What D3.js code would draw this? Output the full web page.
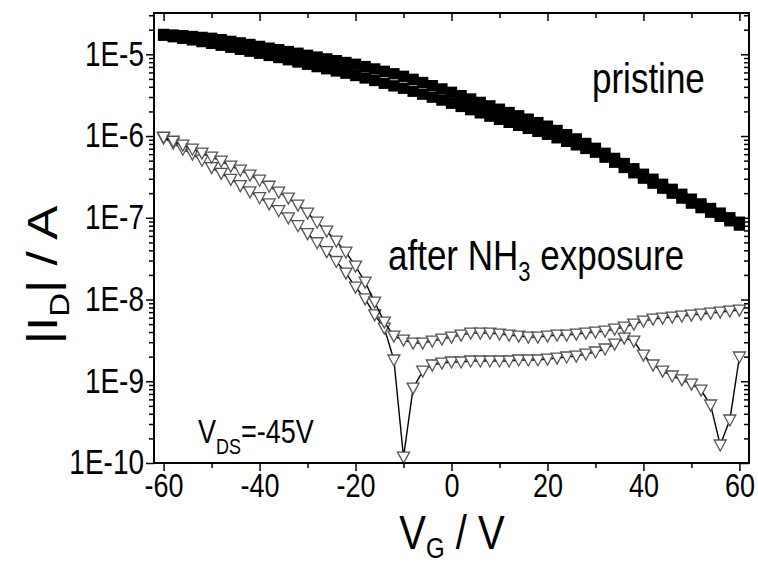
<!DOCTYPE html>
<html>
<head>
<meta charset="utf-8">
<script src="https://cdn.jsdelivr.net/npm/d3@7"></script>
<style>
body { margin: 0; background: #fff; }
text { font-family: "Liberation Sans", Arial, sans-serif; fill: #000; white-space: pre; }
</style>
</head>
<body>
<svg id="chart" width="758" height="565"></svg>
<script>
var w = 758,
  h = 565;
var plotLeft = 154, plotRight = 749, plotTop = 13, plotBottom = 463;
// the figure is squeezed sideways, so all text gets stretched vertically
var stretch = 1.22;

// gate voltage steps of the sweeps (V)
var vg = [-60,-58,-56,-54,-52,-50,-48,-46,-44,-42,-40,-38,-36,-34,-32,-30,-28,-26,-24,-22,
  -20,-18,-16,-14,-12,-10,-8,-6,-4,-2,0,2,4,6,8,10,12,14,16,18,
  20,22,24,26,28,30,32,34,36,38,40,42,44,46,48,50,52,54,56,58,60];

// pristine |ID| (A), two sweep directions
var pristineA = [1.75e-5,1.72e-5,1.69e-5,1.65e-5,1.61e-5,1.57e-5,1.51e-5,1.44e-5,1.38e-5,1.32e-5,
  1.25e-5,1.19e-5,1.14e-5,1.08e-5,1.03e-5,9.73e-6,9.25e-6,8.79e-6,8.36e-6,7.94e-6,
  7.55e-6,7.08e-6,6.62e-6,6.19e-6,5.78e-6,5.38e-6,4.94e-6,4.52e-6,4.13e-6,3.77e-6,
  3.43e-6,3.12e-6,2.84e-6,2.58e-6,2.34e-6,2.13e-6,1.94e-6,1.77e-6,1.61e-6,1.46e-6,
  1.32e-6,1.17e-6,1.04e-6,9.23e-7,8.11e-7,7.08e-7,6.15e-7,5.33e-7,4.61e-7,3.98e-7,
  3.41e-7,2.96e-7,2.57e-7,2.23e-7,1.94e-7,1.69e-7,1.48e-7,1.30e-7,1.14e-7,1.00e-7,8.83e-8];
var pristineB = [1.71e-5,1.64e-5,1.57e-5,1.50e-5,1.43e-5,1.36e-5,1.29e-5,1.22e-5,1.15e-5,1.09e-5,
  1.03e-5,9.68e-6,9.12e-6,8.57e-6,8.05e-6,7.55e-6,7.06e-6,6.65e-6,6.25e-6,5.87e-6,
  5.50e-6,5.13e-6,4.78e-6,4.42e-6,4.11e-6,3.84e-6,3.53e-6,3.25e-6,2.99e-6,2.75e-6,
  2.52e-6,2.30e-6,2.10e-6,1.92e-6,1.75e-6,1.60e-6,1.47e-6,1.35e-6,1.24e-6,1.14e-6,
  1.05e-6,9.51e-7,8.61e-7,7.80e-7,7.05e-7,6.34e-7,5.51e-7,4.78e-7,4.12e-7,3.55e-7,
  3.05e-7,2.65e-7,2.30e-7,2.00e-7,1.74e-7,1.51e-7,1.33e-7,1.17e-7,1.04e-7,9.18e-8,8.13e-8];

// after NH3 exposure |ID| (A), two sweep directions
var nh3A = [9.66e-7,8.63e-7,7.73e-7,6.90e-7,6.17e-7,5.51e-7,4.92e-7,4.28e-7,3.82e-7,3.32e-7,
  2.88e-7,2.43e-7,2.06e-7,1.74e-7,1.43e-7,1.14e-7,8.83e-8,6.86e-8,5.18e-8,3.79e-8,
  2.56e-8,1.63e-8,9.29e-9,5.30e-9,3.57e-9,3.19e-9,2.93e-9,2.93e-9,3.10e-9,3.28e-9,
  3.47e-9,3.67e-9,3.88e-9,3.88e-9,3.88e-9,3.77e-9,3.67e-9,3.57e-9,3.47e-9,3.47e-9,
  3.57e-9,3.67e-9,3.67e-9,3.77e-9,3.88e-9,3.99e-9,4.11e-9,4.35e-9,4.60e-9,5.00e-9,
  5.45e-9,5.75e-9,5.93e-9,6.10e-9,6.27e-9,6.44e-9,6.63e-9,6.82e-9,7.02e-9,7.21e-9,7.41e-9];
var nh3B = [9.40e-7,8.17e-7,6.90e-7,6.00e-7,5.06e-7,4.10e-7,3.50e-7,2.95e-7,2.48e-7,2.08e-7,
  1.76e-7,1.48e-7,1.22e-7,1.00e-7,8.00e-8,6.40e-8,4.95e-8,3.85e-8,2.92e-8,2.10e-8,
  1.42e-8,1.02e-8,6.50e-9,4.47e-9,1.82e-9,1.18e-10,8.26e-10,1.33e-9,1.58e-9,1.67e-9,
  1.72e-9,1.72e-9,1.77e-9,1.77e-9,1.77e-9,1.77e-9,1.77e-9,1.82e-9,1.82e-9,1.82e-9,
  1.87e-9,1.92e-9,1.98e-9,2.03e-9,2.15e-9,2.28e-9,2.48e-9,2.85e-9,3.37e-9,3.10e-9,
  2.09e-9,1.58e-9,1.33e-9,1.16e-9,1.04e-9,9.25e-10,7.80e-10,5.12e-10,1.66e-10,3.36e-10,1.98e-9];

var xMajor = [-60,-40,-20,0,20,40,60];
var xMinor = [-50,-30,-10,10,30,50];
var yMajor = [1e-10,1e-9,1e-8,1e-7,1e-6,1e-5];
var yLabels = ["1E-10","1E-9","1E-8","1E-7","1E-6","1E-5"];

var x = d3.scaleLinear().domain([-62, 62]).range([plotLeft, plotRight]);
var y = d3.scaleLog().domain([1e-10, 3.2e-5]).range([plotBottom, plotTop]);

var svg = d3.select("#chart");

function minorLogTicks() {
  var t = [];
  yMajor.forEach(function (d) {
    for (var k = 2; k < 10; k++) {
      if (d * k < 3.2e-5) t.push(d * k);
    }
  });
  return t;
}

function styleAxis(g, size) {
  g.attr("font-family", null).attr("font-size", null);
  g.select(".domain").remove();
  g.selectAll("line").attr("stroke", "#000").attr("stroke-width", 1.5);
  g.selectAll("text").style("font-size", size + "px");
}

function drawAxes() {
  var yMinor = minorLogTicks();

  // bottom, ticks outside
  var b1 = svg.append("g").attr("transform", "translate(0," + plotBottom + ")")
    .call(d3.axisBottom(x).tickValues(xMinor).tickSize(5).tickFormat(""));
  styleAxis(b1, 27);
  var b2 = svg.append("g").attr("transform", "translate(0," + plotBottom + ")")
    .call(d3.axisBottom(x).tickValues(xMajor).tickSize(8).tickPadding(1)
      .tickFormat(function (d) { return String(d); }));
  styleAxis(b2, 27);
  b2.selectAll("text").attr("transform", "scale(1," + stretch + ")");

  // top, ticks inside
  var t1 = svg.append("g").attr("transform", "translate(0," + plotTop + ")")
    .call(d3.axisTop(x).tickValues(xMinor).tickSize(-5).tickFormat(""));
  styleAxis(t1, 10);
  var t2 = svg.append("g").attr("transform", "translate(0," + plotTop + ")")
    .call(d3.axisTop(x).tickValues(xMajor).tickSize(-8).tickFormat(""));
  styleAxis(t2, 10);

  // left, ticks outside
  var l1 = svg.append("g").attr("transform", "translate(" + plotLeft + ",0)")
    .call(d3.axisLeft(y).tickValues(yMinor).tickSize(5).tickFormat(""));
  styleAxis(l1, 28);
  var l2 = svg.append("g").attr("transform", "translate(" + plotLeft + ",0)")
    .call(d3.axisLeft(y).tickValues(yMajor).tickSize(8).tickPadding(2)
      .tickFormat(function (d, i) { return yLabels[i]; }));
  styleAxis(l2, 28);
  l2.selectAll("text").attr("transform", "scale(1," + stretch + ")");

  // right, ticks inside
  var r1 = svg.append("g").attr("transform", "translate(" + plotRight + ",0)")
    .call(d3.axisRight(y).tickValues(yMinor).tickSize(-5).tickFormat(""));
  styleAxis(r1, 10);
  var r2 = svg.append("g").attr("transform", "translate(" + plotRight + ",0)")
    .call(d3.axisRight(y).tickValues(yMajor).tickSize(-8).tickFormat(""));
  styleAxis(r2, 10);

  svg.append("rect").attr("x", plotLeft).attr("y", plotTop)
    .attr("width", plotRight - plotLeft).attr("height", plotBottom - plotTop)
    .attr("fill", "none").attr("stroke", "#000").attr("stroke-width", 2);
}

function drawSquares(values) {
  svg.append("g").selectAll("path")
    .data(values)
    .enter().append("path")
    .attr("d", d3.symbol().type(d3.symbolSquare).size(128))
    .attr("transform", function (d, i) { return "translate(" + x(vg[i]) + "," + y(d) + ")"; })
    .attr("fill", "#000");
}

function drawTriangles(values) {
  var line = d3.line()
    .x(function (d, i) { return x(vg[i]); })
    .y(function (d) { return y(d); });
  svg.append("path").datum(values)
    .attr("d", line)
    .attr("fill", "none").attr("stroke", "#000").attr("stroke-width", 1.4);
  svg.append("g").selectAll("path")
    .data(values)
    .enter().append("path")
    .attr("d", "M-6,-5L6,-5L0,6Z")
    .attr("transform", function (d, i) { return "translate(" + x(vg[i]) + "," + y(d) + ")"; })
    .attr("fill", "#fff").attr("stroke", "#555").attr("stroke-width", 1.3);
}

// parts: [text, fontSize, dy]
function label(transform, anchor, parts) {
  var t = svg.append("text").attr("transform", transform).attr("text-anchor", anchor);
  parts.forEach(function (p) {
    t.append("tspan").text(p[0]).style("font-size", p[1] + "px").attr("dy", p[2]);
  });
}

drawSquares(pristineB);
drawSquares(pristineA);
drawTriangles(nh3B);
drawTriangles(nh3A);
drawAxes();

var sy = "scale(1," + stretch + ")";
label("translate(592,93) " + sy, "start", [["pristine", 35, 0]]);
label("translate(388,270) " + sy, "start", [["after NH", 35, 0], ["3", 22, 9], [" exposure", 35, -9]]);
label("translate(198,443) " + sy, "start", [["V", 27, 0], ["DS", 18, 9], ["=-45V", 27, -9]]);
label("translate(452,549) " + sy, "middle", [["V", 40, 0], ["G", 24, 7], [" / V", 40, -7]]);
label("translate(57,275) rotate(-90) scale(" + stretch + ",1)", "middle",
  [["|I", 42, 0], ["D", 27, 12], ["| / A", 42, -12]]);
</script>
</body>
</html>
